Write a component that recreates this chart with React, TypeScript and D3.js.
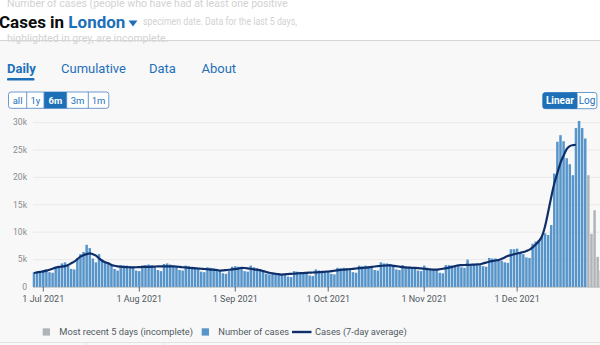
import React from "react";
import * as d3 from "d3";

// ---------- data ----------
const startDate = "2021-06-28";
// three days before the window, used only for the centred 7-day average
const casesBefore = [2500, 2000, 1900];
// daily cases, 28 Jun 2021 .. 23 Dec 2021 (complete)
const cases = [
  2700, 2800, 2900, 3100, 3200, 2700, 2600,
  3600, 3900, 4300, 4500, 3900, 3300, 3200,
  5100, 6000, 6400, 7700, 7100, 5200, 4500,
  6000, 5000, 4600, 4300, 4000, 3300, 3000,
  4000, 3900, 3900, 3800, 3700, 3000, 2900,
  3900, 4000, 4100, 4000, 3800, 3100, 2900,
  4200, 4300, 4100, 3900, 3800, 3100, 3000,
  3900, 3800, 3700, 3600, 3400, 2800, 2700,
  3600, 3500, 3400, 3300, 3000, 2500, 2400,
  2900, 3700, 3800, 3700, 3600, 2900, 2800,
  3900, 3600, 3400, 3100, 2900, 2400, 2300,
  2600, 2500, 2400, 2400, 2300, 1900, 1800,
  2900, 2800, 2700, 2700, 2600, 2100, 2000,
  3200, 3000, 2900, 2900, 2800, 2400, 2300,
  3500, 3400, 3500, 3400, 3300, 2700, 2600,
  3900, 3800, 3900, 3800, 3600, 3100, 3000,
  4500, 4300, 4300, 4200, 4000, 3200, 3100,
  4000, 3800, 3700, 3600, 3500, 3000, 2900,
  3900, 3500, 3300, 3200, 3100, 2600, 2500,
  4000, 4000, 3900, 3900, 3800, 3600, 3500,
  5000, 4200, 4100, 4000, 4000, 3800, 3700,
  5300, 5200, 5200, 5100, 4800, 4500, 4400,
  6900, 6900, 7000, 6200, 6000, 5400, 5300,
  7900, 8300, 8600, 9100, 9800, 9500, 11300,
  20700, 26500, 27700, 26600, 23500, 22400, 20400,
  29000, 30300, 29000, 27100,
];
// most recent 5 days (incomplete), 24 Dec .. 28 Dec
const casesIncomplete = [20400, 9700, 14000, 5500, 3000];

const yTicks = [0, 5000, 10000, 15000, 20000, 25000, 30000];
const yTickLabels = ["0", "5k", "10k", "15k", "20k", "25k", "30k"];
const xTickDates = ["2021-07-01", "2021-08-01", "2021-09-01", "2021-10-01", "2021-11-01", "2021-12-01"];
const xTickLabels = ["1 Jul 2021", "1 Aug 2021", "1 Sep 2021", "1 Oct 2021", "1 Nov 2021", "1 Dec 2021"];
const tabs = ["Daily", "Cumulative", "Data", "About"];
const ranges = ["all", "1y", "6m", "3m", "1m"];
const scaleModes = ["Linear", "Log"];
const legendLabels = ["Most recent 5 days (incomplete)", "Number of cases", "Cases (7-day average)"];

// ---------- styles ----------
const FONT = "Roboto, 'Noto Sans', Arial, sans-serif";
const BLUE = "#1d70b8";
const BAR = "#5694ca";
const GREY_BAR = "#b1b4b6";
const LINE = "#0f2f6b";
const BG = "#f8f8f8";

export default function App() {
  const parse = (s: string) => new Date(s + "T00:00:00Z");
  const t0 = parse(startDate);
  const totalDays = cases.length + casesIncomplete.length;

  const x = d3
    .scaleUtc()
    .domain([t0, d3.utcDay.offset(t0, totalDays)])
    .range([34.0, 34.0 + totalDays * 3.097]);
  const y = d3.scaleLinear().domain([0, 30000]).range([287, 122.6]);

  const bars = cases.map((v, i) => ({ date: d3.utcDay.offset(t0, i), v }));
  const greyBars = casesIncomplete.map((v, i) => ({
    date: d3.utcDay.offset(t0, cases.length + i),
    v,
  }));

  const combined = [...casesBefore, ...cases];
  const avg: { date: Date; v: number }[] = [];
  for (let i = 0; i + 6 < combined.length; i++) {
    avg.push({
      date: d3.utcDay.offset(t0, i),
      v: d3.mean(combined.slice(i, i + 7)) as number,
    });
  }
  const line = d3
    .line<{ date: Date; v: number }>()
    .x((d) => x(d.date))
    .y((d) => y(d.v))
    .curve(d3.curveMonotoneX);

  const bw = 2.5;
  const tabX = [7, 61, 149, 201.5];
  const rangeEdges = [8.5, 26.7, 44, 66.7, 88.3, 108.8];

  return (
    <svg
      width={600}
      height={345}
      style={{ position: "fixed", left: 0, top: 0, display: "block" }}
      fontFamily={FONT}
    >
      <rect x={0} y={0} width={600} height={345} fill={BG} />
      {/* header */}
      <rect x={0} y={0} width={600} height={40.5} fill="#ffffff" />
      <g fill="#d2d2d2" fontSize={10.5}>
        <text x={7} y={7}>Number of cases (people who have had at least one positive</text>
        <text x={143} y={25} textLength={154} lengthAdjust="spacingAndGlyphs">
          specimen date. Data for the last 5 days,
        </text>
        <text x={7} y={42}>highlighted in grey, are incomplete.</text>
      </g>
      <line x1={0} x2={600} y1={40.5} y2={40.5} stroke="#d6d6d6" strokeWidth={1} />
      <text x={-1} y={28} fontSize={17} fontWeight={700} fill="#0b0c0c">
        Cases in <tspan fill={BLUE}>London</tspan>
      </text>
      <path d="M128.5,20.5 L137.5,20.5 L133,26.5 Z" fill={BLUE} />

      {/* tabs */}
      {tabs.map((t, i) => (
        <text
          key={t}
          x={tabX[i]}
          y={73}
          fontSize={13}
          fontWeight={i === 0 ? 700 : 400}
          fill={BLUE}
        >
          {t}
        </text>
      ))}
      <rect x={7} y={78} width={27.5} height={2.6} rx={1.2} fill={BLUE} />

      {/* range buttons */}
      <rect x={8.5} y={92} width={100.3} height={16.3} rx={2.5} fill="#ffffff" stroke="#5a8fc7" strokeWidth={0.9} />
      <rect x={rangeEdges[2]} y={92} width={rangeEdges[3] - rangeEdges[2]} height={16.3} fill={BLUE} />
      {rangeEdges.slice(1, 5).map((e, i) => (
        <line key={i} x1={e} x2={e} y1={92} y2={108.3} stroke="#5a8fc7" strokeWidth={0.9} />
      ))}
      {ranges.map((r, i) => (
        <text
          key={r}
          x={(rangeEdges[i] + rangeEdges[i + 1]) / 2}
          y={103.6}
          fontSize={9.5}
          textAnchor="middle"
          fontWeight={i === 2 ? 700 : 400}
          fill={i === 2 ? "#ffffff" : BLUE}
        >
          {r}
        </text>
      ))}

      {/* linear / log */}
      <rect x={542.7} y={92.5} width={54.2} height={16.2} rx={2.5} fill="#ffffff" stroke="#5a8fc7" strokeWidth={0.9} />
      <rect x={542.7} y={92.5} width={34.6} height={16.2} rx={2.5} fill={BLUE} />
      <rect x={570} y={92.5} width={7.3} height={16.2} fill={BLUE} />
      {scaleModes.map((m, i) => (
        <text
          key={m}
          x={i === 0 ? 560 : 587}
          y={104}
          fontSize={10}
          textAnchor="middle"
          fontWeight={i === 0 ? 700 : 400}
          fill={i === 0 ? "#ffffff" : BLUE}
        >
          {m}
        </text>
      ))}

      {/* grid + y axis */}
      {yTicks.map((t, i) => (
        <g key={t}>
          {i > 0 && (
            <line x1={33} x2={600} y1={y(t)} y2={y(t)} stroke="#e6e6e6" strokeWidth={0.8} />
          )}
          <text
            x={27}
            y={y(t)}
            dy="0.33em"
            fontSize={8.6}
            textAnchor="end"
            fill="#8a8d8f"
          >
            {yTickLabels[i]}
          </text>
        </g>
      ))}

      {/* bars */}
      {bars.map((d, i) => (
        <rect
          key={"b" + i}
          x={x(d.date) - bw / 2}
          y={y(d.v)}
          width={bw}
          height={y(0) - y(d.v)}
          fill={BAR}
        />
      ))}
      {greyBars.map((d, i) => (
        <rect
          key={"g" + i}
          x={x(d.date) - bw / 2}
          y={y(d.v)}
          width={bw}
          height={y(0) - y(d.v)}
          fill={GREY_BAR}
        />
      ))}

      {/* 7-day average */}
      <path d={line(avg) || ""} fill="none" stroke={LINE} strokeWidth={2.2} strokeLinejoin="round" />

      {/* x axis */}
      <line x1={33} x2={600} y1={287.3} y2={287.3} stroke="#9a9da0" strokeWidth={0.6} />
      {xTickDates.map((s, i) => {
        const xx = x(parse(s));
        return (
          <g key={s}>
            <line x1={xx} x2={xx} y1={287} y2={291.5} stroke="#505a5f" strokeWidth={0.9} />
            <text x={xx} y={301.5} fontSize={9} textAnchor="middle" fill="#505a5f">
              {xTickLabels[i]}
            </text>
          </g>
        );
      })}

      {/* legend */}
      <rect x={42.7} y={328.3} width={7.3} height={7.3} fill={GREY_BAR} />
      <text x={59.3} y={335} fontSize={9.3} fill="#505a5f">{legendLabels[0]}</text>
      <rect x={201.7} y={328.3} width={7.3} height={7.3} fill={BAR} />
      <text x={218.3} y={335} fontSize={9.3} fill="#505a5f">{legendLabels[1]}</text>
      <line x1={292} x2={311.5} y1={332} y2={332} stroke={LINE} strokeWidth={2.4} />
      <text x={315} y={335} fontSize={9.3} fill="#505a5f">{legendLabels[2]}</text>

      <line x1={0} x2={600} y1={342.5} y2={342.5} stroke="#e2e2e2" strokeWidth={1} />
      <line x1={86} x2={86} y1={342.5} y2={345} stroke="#e2e2e2" strokeWidth={1} />
      <line x1={163} x2={163} y1={342.5} y2={345} stroke="#e2e2e2" strokeWidth={1} />
    </svg>
  );
}
